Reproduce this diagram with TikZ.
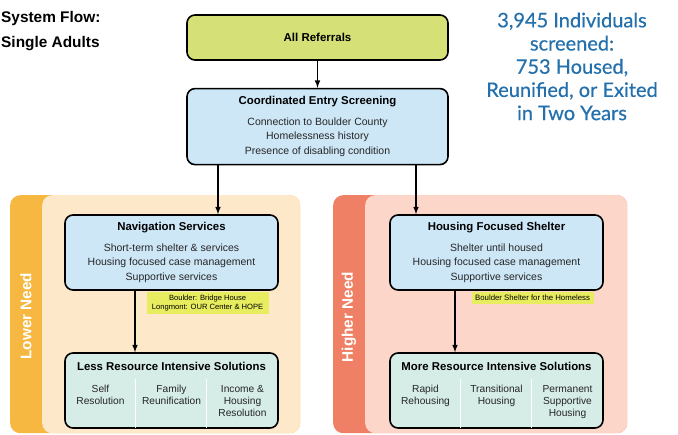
\documentclass[tikz,border=0pt]{standalone}
\usepackage{fontspec}
\setmainfont{Liberation Sans}
\newfontfamily\cifrefont[FakeBold=0.5]{Lato}
\usetikzlibrary{positioning}
\usetikzlibrary{shapes}
\usetikzlibrary{arrows}

\definecolor{giallo}{RGB}{213,224,118}
\definecolor{azzurro}{RGB}{205,231,247}
\definecolor{verdino}{RGB}{213,236,231}
\definecolor{arancio}{RGB}{247,184,66}
\definecolor{pesca}{RGB}{253,232,201}
\definecolor{salmone}{RGB}{240,128,101}
\definecolor{rosa}{RGB}{252,215,201}
\definecolor{evidenz}{RGB}{232,237,96}
\definecolor{blu}{RGB}{36,112,172}

\begin{document}
\begin{tikzpicture}[x=1pt,y=-1pt,align=center,
blocco/.style={draw,line width=1.6pt,rounded corners=8pt,minimum width=213pt,minimum height=75pt,inner sep=0pt,font=\fontsize{10.5}{14.5}\selectfont,text=black!85},
titolo/.style={font=\fontsize{11.4}{14}\selectfont\bfseries},
colonna/.style={font=\fontsize{10.2}{12}\selectfont,anchor=north,inner sep=0pt,text=black!85},
nota/.style={fill=evidenz,font=\fontsize{7.6}{9}\selectfont,inner xsep=1pt,inner ysep=3pt,minimum width=122pt,anchor=north east},
fascia/.style={rounded corners=10pt,minimum height=238pt,anchor=north west,inner sep=0pt},
bisogno/.style={rotate=90,text=white,font=\fontsize{15.3}{18}\selectfont\bfseries},
divisore/.style={white,line width=1.2pt},
freccia/.style={-latex,line width=1.5pt}
]
\useasboundingbox (0,0) rectangle (678,435);
%-- titolo e cifre
\node[anchor=north west,inner sep=0pt,align=left,font=\fontsize{15.4}{25}\selectfont\bfseries](sistema) at (1,11.3){System Flow:\\Single Adults};
\node[anchor=north,inner sep=0pt,text=blu,font=\cifrefont\fontsize{20}{23.2}\selectfont](cifre) at (572,12.4){3,945 Individuals\\screened:\\753 Housed,\\Reunified, or Exited\\in Two Years};
%-- fasce
\node[fascia,fill=arancio,minimum width=290pt](bassoBg) at (10,195){};
\node[fascia,fill=pesca,minimum width=258pt](bassoIn) at (42,195){};
\node[bisogno](bassoLab) at (26,316){Lower Need};
\node[fascia,fill=salmone,minimum width=294pt](altoBg) at (333,195){};
\node[fascia,fill=rosa,minimum width=262pt](altoIn) at (365,195){};
\node[bisogno](altoLab) at (349,317){Higher Need};
%----
\node[blocco,fill=giallo,minimum width=261pt,minimum height=45pt](referral) at (317.5,37.5){\fontsize{11.5}{14}\selectfont\bfseries\color{black} All Referrals};
\node[blocco,fill=azzurro,minimum width=261pt,minimum height=76pt,below = 27pt of referral](screening){{\fontsize{11.4}{14}\selectfont\bfseries\color{black} Coordinated Entry Screening}\\[6pt]Connection to Boulder County\\Homelessness history\\Presence of disabling condition};
\draw [freccia] (referral) -- (screening);
%--
\node[blocco,fill=azzurro](navigaz) at (171.5,252.5){{\fontsize{11.4}{14}\selectfont\bfseries\color{black} Navigation Services}\\[6pt]Short-term shelter \& services\\Housing focused case management\\Supportive services};
\coordinate (sx) at ([xshift=-99.5pt]screening.south);
\draw [freccia] (sx) -- (sx |- navigaz.north);
\node[nota](notaL) at ([xshift=-10pt,yshift=-1pt]navigaz.south east){Boulder: Bridge House\\Longmont: OUR Center \& HOPE};
%--
\node[blocco,fill=verdino](solL) at (171.5,390.5){};
\node[titolo](solLtit) at ([yshift=-14pt]solL.north){Less Resource Intensive Solutions};
\coordinate (nx) at ([xshift=-36.5pt]navigaz.south);
\draw [freccia] (nx) -- (nx |- solL.north);
\draw [divisore] ([xshift=71pt,yshift=1pt]solL.south west) -- ++(0,-49);
\draw [divisore] ([xshift=142pt,yshift=1pt]solL.south west) -- ++(0,-49);
\node[colonna](selfres) at ([xshift=-71pt,yshift=-33pt]solL.north){Self\\Resolution};
\node[colonna](famreun) at ([yshift=-33pt]solL.north){Family\\Reunification};
\node[colonna](incomeres) at ([xshift=71pt,yshift=-33pt]solL.north){Income \&\\Housing\\Resolution};
%----
\node[blocco,fill=azzurro](shelter) at (496.5,252.5){{\fontsize{11.4}{14}\selectfont\bfseries\color{black} Housing Focused Shelter}\\[6pt]Shelter until housed\\Housing focused case management\\Supportive services};
\coordinate (dx) at ([xshift=98.5pt]screening.south);
\draw [freccia] (dx) -- (dx |- shelter.north);
\node[nota,font=\fontsize{7.8}{9}\selectfont](notaR) at ([xshift=-10pt,yshift=-1pt]shelter.south east){Boulder Shelter for the Homeless};
%--
\node[blocco,fill=verdino](solR) at (496.5,390.5){};
\node[titolo](solRtit) at ([yshift=-14pt]solR.north){More Resource Intensive Solutions};
\coordinate (hx) at ([xshift=-41.5pt]shelter.south);
\draw [freccia] (hx) -- (hx |- solR.north);
\draw [divisore] ([xshift=71pt,yshift=1pt]solR.south west) -- ++(0,-49);
\draw [divisore] ([xshift=142pt,yshift=1pt]solR.south west) -- ++(0,-49);
\node[colonna](rapid) at ([xshift=-71pt,yshift=-33pt]solR.north){Rapid\\Rehousing};
\node[colonna](transiz) at ([yshift=-33pt]solR.north){Transitional\\Housing};
\node[colonna](permanent) at ([xshift=71pt,yshift=-33pt]solR.north){Permanent\\Supportive\\Housing};
\end{tikzpicture}
\end{document}
